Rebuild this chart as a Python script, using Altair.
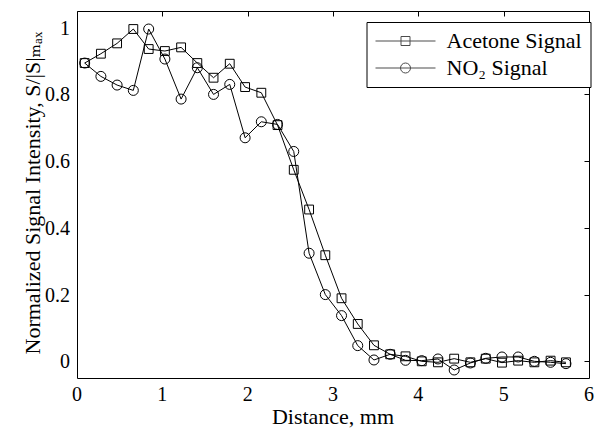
import altair as alt
import pandas as pd

# ---- data ----
distance = [0.09, 0.28, 0.47, 0.66, 0.84, 1.03, 1.22, 1.41, 1.60, 1.79,
            1.97, 2.16, 2.35, 2.54, 2.72, 2.91, 3.10, 3.29, 3.48, 3.67,
            3.85, 4.04, 4.23, 4.42, 4.61, 4.79, 4.98, 5.17, 5.36, 5.55, 5.73]
acetone = [0.894, 0.922, 0.953, 0.996, 0.936, 0.930, 0.941, 0.894, 0.850, 0.892,
           0.822, 0.805, 0.708, 0.574, 0.455, 0.318, 0.189, 0.112, 0.048, 0.021,
           0.015, 0.000, -0.003, 0.008, -0.003, 0.008, -0.004, 0.002, -0.003, 0.002,
           -0.003]
no2 = [0.894, 0.854, 0.828, 0.812, 0.996, 0.906, 0.786, 0.880, 0.800, 0.830,
       0.670, 0.718, 0.710, 0.629, 0.324, 0.200, 0.137, 0.047, 0.004, 0.021,
       0.003, 0.002, 0.007, -0.026, -0.005, 0.009, 0.013, 0.013, 0.000, -0.003,
       -0.007]
series_names = ["Acetone Signal", "NO\u2082 Signal"]
x_ticks = [0, 1, 2, 3, 4, 5, 6]
x_tick_labels = ["0", "1", "2", "3", "4", "5", "6"]
y_ticks = [0, 0.2, 0.4, 0.6, 0.8, 1]
y_tick_labels = ["0", "0.2", "0.4", "0.6", "0.8", "1"]
x_title = ["Distance, mm"]
y_title = ["Normalized Signal Intensity, S/|S|\u2098\u2090\u2093"]

df = pd.DataFrame({
    "distance": distance + distance,
    "signal": acetone + no2,
    "series": [series_names[0]] * len(distance) + [series_names[1]] * len(distance),
})

FONT = "Liberation Serif"
TEXT_FONT = "Liberation Serif, Times New Roman, DejaVu Serif, serif"
TICK_FS = 20
TITLE_FS = 22

xscale = alt.Scale(domain=[0, 6], nice=False, zero=False)
yscale = alt.Scale(domain=[-0.05, 1.05], nice=False, zero=False)

common_axis = dict(domain=False, grid=False, ticks=True, tickSize=5, tickColor="black",
                   tickWidth=1, offset=-5, labels=False, title=None)

x_enc = alt.X("distance:Q", scale=xscale, axis=alt.Axis(values=x_ticks, **common_axis))
y_enc = alt.Y("signal:Q", scale=yscale, axis=alt.Axis(values=y_ticks, **common_axis))

base = alt.Chart(df)

lines = base.mark_line(color="black", strokeWidth=1).encode(
    x=x_enc, y=y_enc, detail="series:N")

points = base.mark_point(filled=False, color="black", strokeWidth=1, opacity=1).encode(
    x=x_enc,
    y=y_enc,
    shape=alt.Shape("series:N", scale=alt.Scale(domain=series_names, range=["square", "circle"]), legend=None),
    size=alt.Size("series:N", scale=alt.Scale(domain=series_names, range=[78, 100]), legend=None),
)

# tick labels and axis titles drawn as text marks (serif font)
x_labels = alt.Chart(pd.DataFrame({"v": x_ticks, "label": x_tick_labels})).mark_text(
    font=TEXT_FONT, fontSize=TICK_FS, color="black", align="center", baseline="alphabetic"
).encode(
    x=alt.X("v:Q", scale=xscale, axis=None), y=alt.value(390), text="label:N")

y_labels = alt.Chart(pd.DataFrame({"v": y_ticks, "label": y_tick_labels})).mark_text(
    font=TEXT_FONT, fontSize=TICK_FS, color="black", align="right", baseline="middle", dy=1
).encode(
    x=alt.value(-7), y=alt.Y("v:Q", scale=yscale, axis=None), text="label:N")

x_title_layer = alt.Chart(pd.DataFrame({"t": x_title})).mark_text(
    font=TEXT_FONT, fontSize=TITLE_FS, color="black", align="center", baseline="alphabetic"
).encode(x=alt.value(256), y=alt.value(413), text="t:N")

y_title_layer = alt.Chart(pd.DataFrame({"t": y_title})).mark_text(
    font=TEXT_FONT, fontSize=TITLE_FS, color="black", align="center", baseline="alphabetic",
    angle=270
).encode(x=alt.value(-37), y=alt.value(182), text="t:N")

mirror = base.transform_filter("datum.distance < -10").mark_point(opacity=0).encode(
    x=alt.X("distance:Q", scale=xscale,
            axis=alt.Axis(orient="top", values=x_ticks, **common_axis)),
    y=alt.Y("signal:Q", scale=yscale,
            axis=alt.Axis(orient="right", values=y_ticks, **common_axis)),
)

sq_path = "M-3,0H3M-0.45,-0.45H0.45V0.45H-0.45Z"
ci_path = "M-3,0H3M0.5,0A0.5,0.5,0,1,1,-0.5,0A0.5,0.5,0,1,1,0.5,0Z"

legend_layer = base.transform_filter("datum.distance < -10").mark_point(
    filled=False, color="black", strokeWidth=1, size=400).encode(
    x=x_enc,
    y=y_enc,
    shape=alt.Shape("series:N",
                    scale=alt.Scale(domain=series_names, range=[sq_path, ci_path]),
                    legend=alt.Legend(title=None, orient="none", legendX=289.5, legendY=11,
                                      padding=8, strokeColor="black", fillColor="white",
                                      cornerRadius=0, labelFont=FONT, labelFontSize=TITLE_FS,
                                      labelColor="black", symbolStrokeColor="black",
                                      symbolFillColor="transparent", symbolStrokeWidth=1,
                                      symbolSize=400, symbolOffset=20, labelOffset=30,
                                      rowPadding=5,
                                      labelExpr="datum.label + '\u00a0\u00a0\u00a0\u00a0\u00a0\u00a0'")),
)

main = alt.layer(lines, points, legend_layer, x_labels, y_labels,
                 x_title_layer, y_title_layer).resolve_scale(
    shape="independent", size="independent"
)

chart = alt.layer(main, mirror).resolve_axis(
    x="independent", y="independent"
).properties(
    width=512, height=367,
    padding={"left": 69, "top": 3, "right": 8, "bottom": 50},
    autosize=alt.AutoSizeParams(type="none"),
).configure(
    font=FONT,
).configure_view(
    stroke="black", strokeWidth=1
)

chart.save("out.html", embed_options={"renderer": "svg", "actions": False})
